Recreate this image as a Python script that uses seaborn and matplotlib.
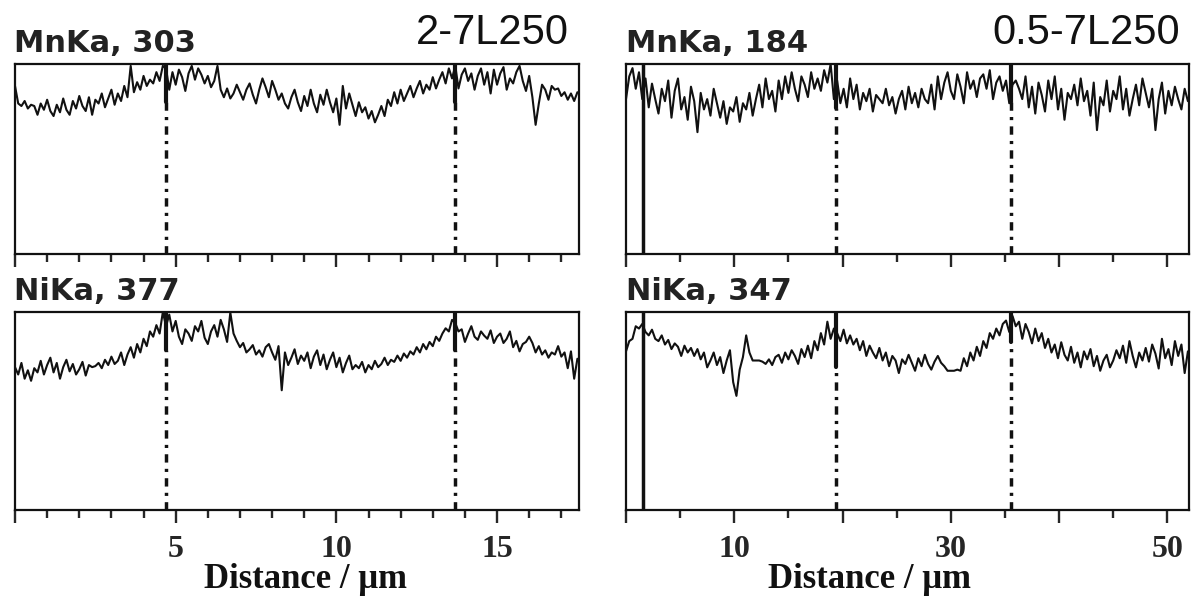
import numpy as np
import matplotlib
matplotlib.use("Agg")
import matplotlib.pyplot as plt
import seaborn as sns

# ----------------------------
# Data (counts)
# ----------------------------
left_title = "2-7L250"
right_title = "0.5-7L250"

left_xmax = 17.5
right_xmax = 51.9

mn_left_max = 303
ni_left_max = 377
mn_right_max = 184
ni_right_max = 347

mn_left = [
    268, 240, 236, 244, 232, 238, 236, 222, 240, 230,
    246, 228, 220, 238, 226, 248, 230, 222, 244, 232,
    252, 236, 228, 250, 222, 246, 240, 256, 234, 248,
    262, 238, 256, 244, 268, 250, 300, 258, 274, 262,
    284, 268, 278, 272, 290, 276, 300, 296, 262, 290,
    270, 294, 282, 260, 288, 300, 278, 296, 286, 272,
    284, 266, 276, 300, 262, 250, 264, 248, 256, 270,
    258, 246, 262, 272, 254, 240, 262, 280, 266, 250,
    276, 262, 246, 256, 240, 232, 250, 262, 242, 228,
    252, 236, 262, 240, 226, 254, 238, 262, 242, 226,
    248, 206, 268, 232, 256, 238, 220, 242, 226, 234,
    216, 228, 210, 222, 236, 220, 246, 236, 258, 240,
    262, 244, 256, 268, 250, 264, 276, 256, 270, 262,
    282, 264, 278, 290, 272, 296, 280, 300, 264, 286,
    296, 276, 288, 262, 284, 296, 270, 290, 256, 294,
    270, 288, 298, 262, 280, 272, 290, 300, 276, 260,
    284, 250, 206, 240, 270, 262, 246, 268, 262, 264,
    252, 258, 246, 256, 244, 258,
]

ni_left = [
    272, 258, 280, 250, 266, 246, 270, 262, 284, 258,
    276, 290, 262, 280, 250, 272, 286, 264, 278, 258,
    268, 282, 256, 276, 272, 274, 280, 270, 286, 276,
    292, 278, 284, 300, 276, 296, 310, 290, 316, 300,
    326, 312, 340, 330, 352, 336, 377, 350, 372, 340,
    360, 330, 316, 344, 336, 322, 350, 340, 360, 328,
    316, 340, 352, 330, 362, 344, 320, 376, 336, 322,
    310, 318, 300, 306, 314, 296, 304, 292, 310, 316,
    300, 286, 312, 228, 300, 276, 290, 306, 278, 294,
    284, 300, 270, 292, 304, 276, 296, 268, 286, 300,
    272, 290, 262, 280, 294, 268, 276, 270, 282, 262,
    276, 268, 284, 272, 278, 290, 276, 286, 282, 294,
    284, 298, 290, 302, 296, 310, 300, 316, 306, 320,
    312, 330, 322, 336, 346, 340, 362, 356, 340, 344,
    320, 336, 350, 330, 324, 340, 332, 326, 342, 318,
    330, 336, 318, 326, 340, 310, 322, 302, 316, 320,
    330, 318, 300, 312, 296, 304, 290, 300, 296, 312,
    292, 300, 270, 302, 250, 288,
]

mn_right = [
    150, 172, 180, 160, 176, 150, 170, 142, 165, 150,
    136, 160, 148, 168, 132, 158, 170, 140, 152, 130,
    162, 148, 118, 156, 140, 150, 134, 160, 146, 132,
    148, 126, 142, 138, 152, 128, 146, 140, 156, 134,
    150, 164, 142, 170, 150, 158, 138, 168, 150, 172,
    156, 176, 160, 148, 172, 164, 152, 176, 160, 170,
    158, 178, 166, 184, 150, 168, 146, 160, 142, 170,
    150, 164, 140, 156, 148, 160, 138, 154, 150, 146,
    160, 144, 152, 136, 150, 158, 140, 162, 146, 156,
    142, 160, 150, 146, 164, 140, 172, 150, 166, 176,
    158, 150, 174, 162, 146, 176, 160, 168, 152, 170,
    174, 160, 178, 150, 166, 172, 158, 168, 146, 164,
    168, 160, 150, 172, 142, 162, 136, 166, 154, 138,
    168, 150, 172, 140, 160, 130, 156, 150, 164, 144,
    170, 148, 158, 134, 166, 120, 152, 144, 168, 138,
    158, 150, 172, 140, 160, 134, 150, 164, 144, 170,
    156, 142, 160, 120, 150, 166, 136, 158, 144, 162,
    150, 140, 160, 148,
]

ni_right = [
    278, 296, 300, 322, 318, 326, 312, 306, 316, 300,
    296, 306, 290, 298, 282, 292, 286, 270, 288, 276,
    284, 270, 282, 264, 276, 250, 262, 276, 254, 268,
    240, 262, 280, 224, 200, 246, 268, 306, 276, 262,
    262, 262, 260, 256, 264, 254, 268, 272, 258, 276,
    264, 280, 270, 256, 282, 268, 288, 266, 296, 280,
    310, 290, 330, 300, 318, 310, 296, 316, 292, 306,
    290, 300, 280, 296, 270, 288, 276, 266, 284, 262,
    276, 252, 270, 262, 240, 264, 256, 272, 258, 244,
    266, 252, 272, 256, 246, 260, 270, 258, 252, 244,
    244, 244, 246, 244, 266, 252, 276, 262, 286, 270,
    296, 284, 310, 300, 318, 306, 326, 332, 312, 340,
    322, 330, 300, 326, 312, 292, 318, 296, 310, 284,
    300, 276, 290, 266, 294, 272, 262, 286, 258, 276,
    250, 278, 264, 282, 252, 270, 244, 262, 272, 250,
    262, 280, 266, 288, 258, 296, 270, 250, 276, 262,
    284, 260, 290, 274, 248, 300, 266, 282, 254, 296,
    270, 290, 240, 278,
]

# cursor positions (um)
left_cursors = [4.7, 13.7]
right_solid = 1.6
right_cursors = [19.4, 35.6]

# ----------------------------
# Style
# ----------------------------
sns.set_style("white")
plt.rcParams["font.family"] = ["DejaVu Sans"]

fig = plt.figure(figsize=(11.92, 5.96), dpi=100)
W, H = 1192, 596


def add_panel(x0, y0, x1, y1):
    return fig.add_axes([x0 / W, 1 - y1 / H, (x1 - x0) / W, (y1 - y0) / H])


dash_dot = (0, (2.4, 1.8, 0.9, 1.8))


def draw_profile(ax, xs, ys, ymax, xmax, major, minor, labels, show_labels):
    sns.lineplot(x=xs, y=ys, ax=ax, color="#111111", lw=1.5, estimator=None)
    ax.set_ylim(0, ymax)
    ax.set_xlim(0, xmax)
    ax.set_yticks([])
    ax.set_xticks(major)
    ax.set_xticks(minor, minor=True)
    ax.set_xticklabels(labels if show_labels else [""] * len(major))
    ax.tick_params(axis="x", which="major", direction="out", length=9, width=1.7,
                   bottom=True, pad=9)
    ax.tick_params(axis="x", which="minor", direction="out", length=5.5, width=1.7,
                   bottom=True)
    for lab in ax.get_xticklabels():
        lab.set_fontfamily("Liberation Serif")
        lab.set_fontweight("bold")
        lab.set_fontsize(23)
    for sp in ax.spines.values():
        sp.set_visible(True)
        sp.set_color("#111111")
        sp.set_linewidth(1.6)
    ax.set_xlabel("")
    ax.set_ylabel("")


def draw_cursor(ax, x, solid_frac):
    ax.axvline(x, ymin=1 - solid_frac, ymax=1, color="#111111", lw=3)
    ax.axvline(x, ymin=0, ymax=1 - solid_frac, color="#111111", lw=2.5, ls=dash_dot)


x_left = np.linspace(0, left_xmax, len(mn_left))
x_right = np.linspace(0, right_xmax, len(mn_right))

left_major = [0, 5, 10, 15]
left_minor = list(range(0, 18))
left_labels = ["", "5", "10", "15"]
right_major = [0, 10, 20, 30, 40, 50]
right_minor = list(range(0, 55, 5))
right_labels = ["", "10", "", "30", "", "50"]

# left column
ax_tl = add_panel(15, 64, 579, 254)
draw_profile(ax_tl, x_left, mn_left, mn_left_max, 17.55, left_major, left_minor, left_labels, False)
ax_bl = add_panel(15, 312, 579, 510)
draw_profile(ax_bl, x_left, ni_left, ni_left_max, 17.55, left_major, left_minor, left_labels, True)
for c in left_cursors:
    draw_cursor(ax_tl, c, 0.2)
    draw_cursor(ax_bl, c, 0.19)

# right column
ax_tr = add_panel(626, 64, 1189, 254)
draw_profile(ax_tr, x_right, mn_right, mn_right_max, 52, right_major, right_minor, right_labels, False)
ax_br = add_panel(626, 312, 1189, 510)
draw_profile(ax_br, x_right, ni_right, ni_right_max, 52, right_major, right_minor, right_labels, True)
for ax in (ax_tr, ax_br):
    ax.axvline(right_solid, color="#111111", lw=2.5)
draw_cursor(ax_tr, right_cursors[0], 0.23)
draw_cursor(ax_tr, right_cursors[1], 0.2)
draw_cursor(ax_br, right_cursors[0], 0.28)
draw_cursor(ax_br, right_cursors[1], 0.15)

# labels
head = dict(fontsize=22, fontweight="bold", color="#222222", va="baseline", ha="left")
fig.text(14 / W, 1 - 52 / H, f"MnKa, {mn_left_max}", **head)
fig.text(14 / W, 1 - 300 / H, f"NiKa, {ni_left_max}", **head)
fig.text(626 / W, 1 - 52 / H, f"MnKa, {mn_right_max}", **head)
fig.text(626 / W, 1 - 300 / H, f"NiKa, {ni_right_max}", **head)

big = dict(fontsize=30, family="Liberation Sans", color="#111111", va="baseline", ha="right")
fig.text(569 / W, 1 - 44 / H, left_title, **big)
fig.text(1180 / W, 1 - 44 / H, right_title, **big)

xl = dict(fontsize=25, family="Liberation Serif", fontweight="bold", color="#111111",
          va="center", ha="center")
fig.text(305 / W, 1 - 580 / H, "Distance / \u03bcm", **xl)
fig.text(870 / W, 1 - 580 / H, "Distance / \u03bcm", **xl)

fig.savefig("out.png", dpi=100, facecolor="white")
